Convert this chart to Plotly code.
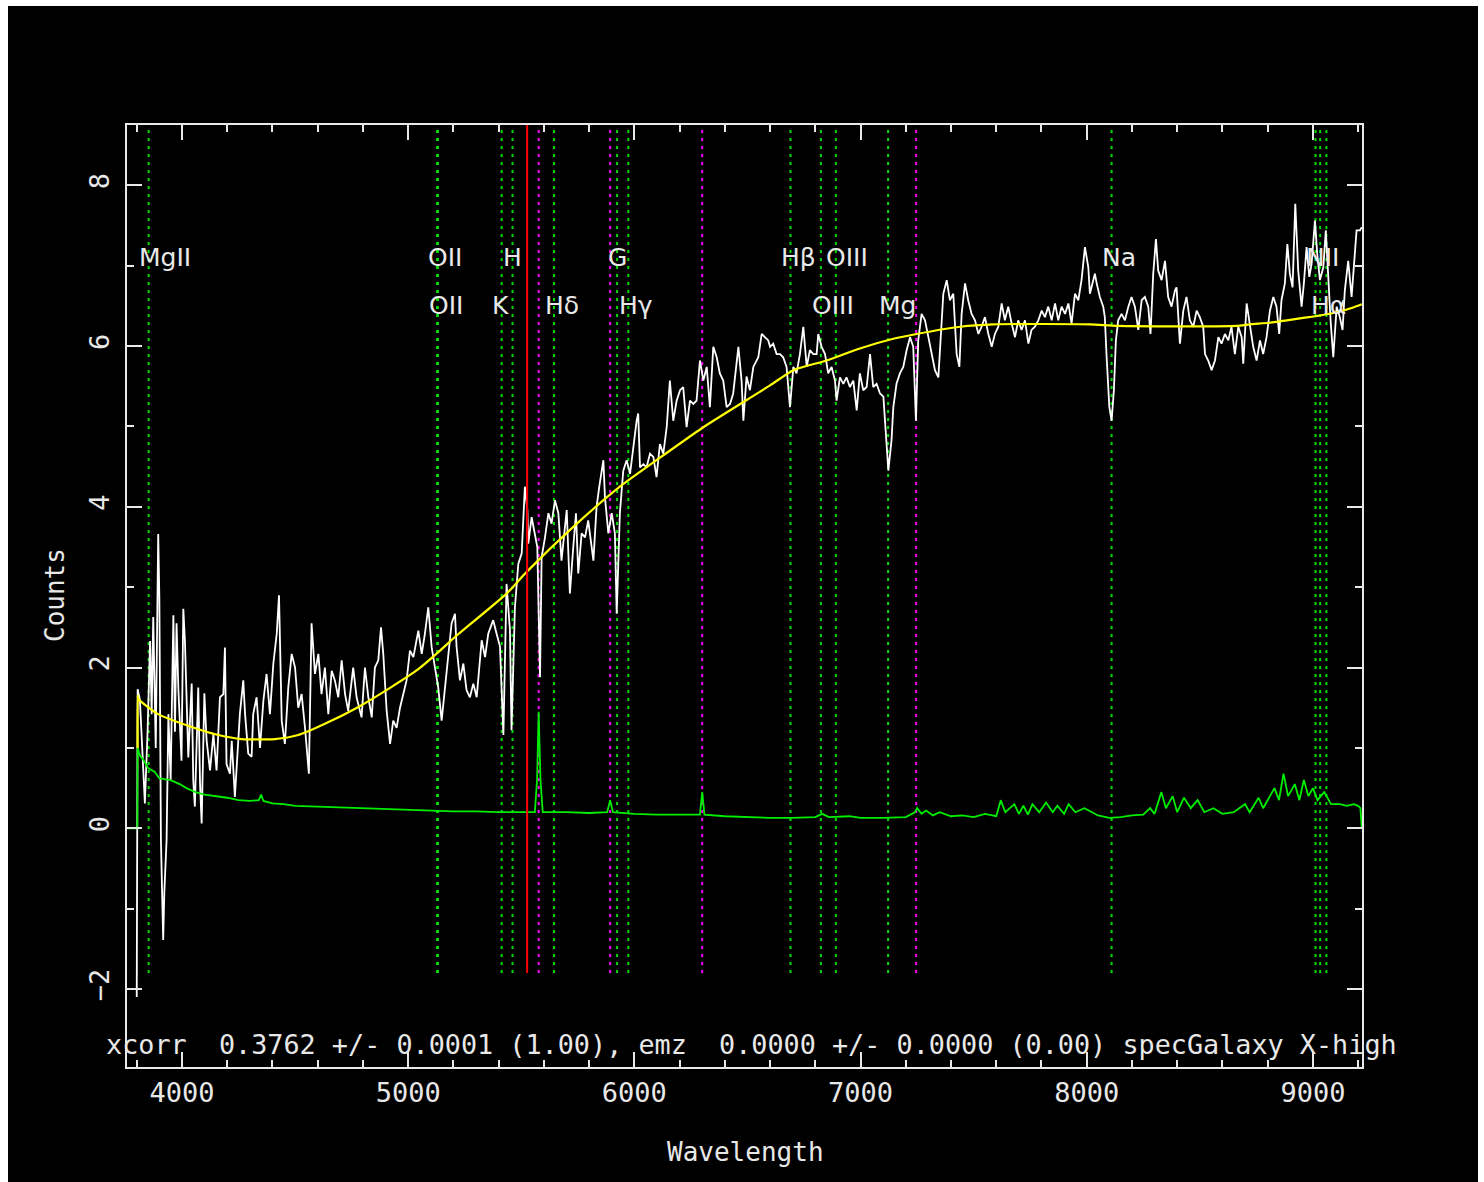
import plotly.graph_objects as go

# ---------------- data ----------------
spec_wave = [3800, 3804, 3814, 3829, 3836, 3848, 3859, 3866, 3873, 3884, 3895, 3900, 3907, 3917, 3922, 3932,
             3940, 3950, 3962, 3969, 3976, 3984, 3998, 4006, 4013, 4028, 4043, 4050, 4057, 4072, 4080, 4087,
             4099, 4109, 4124, 4139, 4153, 4168, 4183, 4190, 4197, 4212, 4220, 4234, 4242, 4256, 4271, 4279,
             4293, 4308, 4315, 4330, 4345, 4360, 4374, 4389, 4404, 4419, 4429, 4441, 4455, 4470, 4485, 4500,
             4514, 4529, 4544, 4551, 4561, 4573, 4588, 4603, 4617, 4632, 4647, 4662, 4676, 4691, 4706, 4721,
             4735, 4757, 4772, 4794, 4809, 4824, 4839, 4853, 4868, 4880, 4890, 4905, 4920, 4934, 4949, 4964,
             4978, 4993, 5008, 5023, 5045, 5060, 5074, 5089, 5104, 5118, 5133, 5148, 5163, 5177, 5192, 5207,
             5214, 5229, 5244, 5258, 5273, 5288, 5303, 5325, 5340, 5354, 5376, 5391, 5406, 5421, 5435, 5450,
             5457, 5472, 5487, 5502, 5509, 5516, 5527, 5531, 5546, 5561, 5571, 5583, 5590, 5605, 5620, 5634,
             5649, 5664, 5678, 5701, 5715, 5730, 5742, 5752, 5767, 5782, 5796, 5819, 5833, 5845, 5863, 5870,
             5885, 5900, 5914, 5922, 5936, 5951, 5966, 5981, 5995, 6010, 6017, 6025, 6040, 6054, 6069, 6084,
             6098, 6113, 6128, 6143, 6157, 6172, 6187, 6202, 6216, 6231, 6246, 6261, 6275, 6290, 6305, 6320,
             6334, 6349, 6364, 6378, 6393, 6408, 6423, 6437, 6460, 6474, 6482, 6496, 6511, 6526, 6548, 6563,
             6577, 6592, 6600, 6614, 6629, 6644, 6658, 6673, 6688, 6703, 6717, 6732, 6747, 6762, 6776, 6791,
             6806, 6813, 6828, 6843, 6857, 6872, 6887, 6894, 6909, 6924, 6938, 6953, 6968, 6983, 6997, 7012,
             7027, 7042, 7056, 7071, 7086, 7101, 7112, 7123, 7137, 7145, 7159, 7174, 7189, 7204, 7219, 7233,
             7245, 7255, 7270, 7285, 7300, 7314, 7329, 7344, 7358, 7366, 7381, 7395, 7410, 7425, 7437, 7447,
             7462, 7476, 7491, 7506, 7521, 7535, 7550, 7565, 7580, 7594, 7609, 7624, 7638, 7653, 7668, 7683,
             7697, 7712, 7727, 7742, 7756, 7771, 7786, 7801, 7815, 7830, 7845, 7860, 7874, 7889, 7904, 7919,
             7933, 7948, 7963, 7977, 7992, 8007, 8014, 8029, 8036, 8044, 8058, 8073, 8080, 8088, 8100, 8110,
             8120, 8129, 8139, 8154, 8169, 8184, 8198, 8213, 8228, 8243, 8257, 8272, 8282, 8294, 8306, 8316,
             8331, 8346, 8360, 8375, 8390, 8397, 8412, 8427, 8441, 8456, 8471, 8486, 8500, 8515, 8523, 8537,
             8552, 8567, 8582, 8596, 8611, 8626, 8640, 8655, 8670, 8685, 8692, 8707, 8721, 8736, 8751, 8766,
             8780, 8795, 8810, 8825, 8839, 8851, 8861, 8876, 8887, 8898, 8910, 8922, 8935, 8950, 8960, 8972,
             8984, 8994, 9009, 9019, 9031, 9046, 9057, 9068, 9078, 9090, 9105, 9119, 9131, 9141, 9156, 9171,
             9181, 9193, 9208, 9216]
spec_counts = [-2.1, 1.73, 1.6, 0.68, 0.31, 1.2, 2.33, 1.42, 2.63, 1.0, 3.66, 2.87, -0.15, -1.39, -0.8, -0.15,
               1.42, 0.6, 2.65, 1.2, 2.55, 1.74, 0.84, 2.73, 2.34, 0.88, 1.8, 0.6, 0.27, 1.75, 0.55, 0.06,
               1.68, 1.09, 0.72, 1.17, 0.72, 1.63, 1.67, 2.25, 0.8, 0.68, 1.09, 0.39, 0.72, 1.42, 1.84, 1.42,
               0.93, 0.89, 1.42, 1.63, 1.0, 1.59, 1.92, 1.42, 2.05, 2.42, 2.9, 1.34, 1.05, 1.75, 2.17, 2.0,
               1.5, 1.67, 1.25, 1.05, 0.68, 2.55, 1.92, 2.17, 1.67, 2.0, 1.42, 1.96, 1.84, 1.63, 2.09, 1.67,
               1.46, 2.0, 1.63, 1.38, 2.0, 1.63, 1.38, 2.0, 2.09, 2.5, 2.17, 1.46, 1.05, 1.34, 1.25, 1.5,
               1.67, 1.84, 2.21, 2.13, 2.46, 2.17, 2.42, 2.75, 2.25, 2.0, 1.75, 1.34, 1.75, 2.09, 2.55, 2.67,
               2.26, 1.84, 2.05, 1.72, 1.63, 1.8, 1.63, 2.34, 2.13, 2.42, 2.59, 2.42, 2.26, 1.16, 3.04, 2.47,
               1.22, 2.75, 3.29, 3.42, 3.92, 4.25, 3.96, 3.54, 3.87, 3.67, 3.5, 1.88, 3.37, 3.62, 3.92, 3.79,
               4.08, 3.92, 3.33, 3.96, 2.92, 3.5, 3.92, 3.17, 3.67, 3.62, 3.83, 3.33, 4.0, 4.25, 4.58, 4.12,
               3.67, 3.92, 3.67, 2.67, 3.92, 4.45, 4.58, 4.41, 4.74, 5.07, 5.16, 4.49, 4.53, 4.49, 4.66, 4.62,
               4.37, 4.78, 4.66, 4.99, 5.57, 5.07, 5.32, 5.45, 5.49, 4.99, 5.32, 5.28, 5.32, 5.82, 5.57, 5.74,
               5.24, 5.99, 5.86, 5.66, 5.57, 5.24, 5.28, 5.41, 5.99, 5.57, 5.07, 5.62, 5.45, 5.74, 5.86, 6.15,
               6.11, 6.07, 5.99, 6.03, 5.9, 5.9, 5.86, 5.74, 5.24, 5.74, 5.66, 5.9, 6.24, 5.74, 5.95, 5.9,
               5.9, 6.15, 5.99, 5.9, 5.66, 5.74, 5.57, 5.32, 5.61, 5.53, 5.61, 5.49, 5.57, 5.2, 5.66, 5.45,
               5.49, 5.9, 5.49, 5.53, 5.41, 5.37, 4.91, 4.45, 4.83, 5.24, 5.53, 5.66, 5.74, 5.95, 6.11, 5.99,
               5.07, 6.07, 6.4, 6.32, 6.11, 5.9, 5.7, 5.61, 6.2, 6.65, 6.82, 6.57, 6.65, 5.9, 5.74, 6.4,
               6.78, 6.57, 6.4, 6.32, 6.15, 6.24, 6.36, 6.15, 5.99, 6.15, 6.24, 6.53, 6.32, 6.49, 6.28, 6.11,
               6.32, 6.2, 6.32, 6.03, 6.2, 6.24, 6.32, 6.44, 6.36, 6.49, 6.32, 6.53, 6.32, 6.49, 6.4, 6.53,
               6.28, 6.65, 6.57, 6.82, 7.23, 6.98, 6.65, 6.82, 6.9, 6.78, 6.61, 6.49, 6.36, 5.86, 5.24, 5.07,
               5.45, 6.07, 6.32, 6.4, 6.32, 6.49, 6.61, 6.49, 6.2, 6.57, 6.61, 6.49, 6.15, 6.9, 7.33, 6.94,
               6.82, 7.06, 6.61, 6.49, 6.69, 6.73, 6.03, 6.44, 6.61, 6.32, 6.24, 6.44, 6.36, 6.24, 5.9, 5.82,
               5.7, 5.82, 6.11, 6.03, 6.15, 6.07, 6.24, 5.9, 6.24, 6.11, 5.78, 6.53, 6.24, 5.99, 5.82, 6.07,
               5.9, 6.11, 6.44, 6.61, 6.49, 6.15, 6.57, 6.78, 7.27, 6.9, 6.73, 7.77, 6.94, 6.49, 6.78, 7.23,
               6.86, 7.02, 7.56, 7.15, 6.82, 6.98, 7.44, 6.82, 6.32, 5.86, 6.49, 6.36, 6.2, 6.69, 7.06, 6.61,
               6.98, 7.44, 7.44, 7.48]

model_wave = [3804, 3804.5, 3807, 3895, 4043, 4161, 4264, 4411, 4514, 4632, 4780, 4927, 5045, 5141, 5207,
              5435, 5524, 5730, 5936, 6098, 6305, 6600, 6703, 6850, 6997, 7145, 7248, 7440, 7587, 8014,
              8139, 8662, 8721, 8810, 8884, 8957, 9031, 9105, 9178, 9216]
model_counts = [1.0, 1.65, 1.61, 1.42, 1.26, 1.16, 1.11, 1.11, 1.16, 1.3, 1.51, 1.76, 1.98, 2.21, 2.38,
                2.92, 3.19, 3.75, 4.25, 4.58, 4.99, 5.51, 5.7, 5.82, 5.97, 6.09, 6.15, 6.24, 6.27, 6.27,
                6.25, 6.25, 6.27, 6.29, 6.32, 6.35, 6.38, 6.42, 6.48, 6.52]

err_wave = [3757, 3803, 3804, 3815, 3830, 3850, 3880, 3900, 3950, 3990, 4020, 4060, 4100, 4150, 4200, 4250,
            4300, 4340, 4350, 4360, 4400, 4450, 4500, 4600, 4700, 4800, 4900, 5000, 5100, 5200, 5300, 5400,
            5500, 5560, 5570, 5577, 5585, 5595, 5700, 5800, 5880, 5893, 5905, 6000, 6100, 6200, 6290, 6300,
            6310, 6400, 6500, 6600, 6700, 6800, 6830, 6860, 6950, 7000, 7100, 7200, 7240, 7250, 7270, 7290,
            7320, 7350, 7400, 7450, 7500, 7550, 7600, 7620, 7640, 7680, 7700, 7720, 7740, 7760, 7790, 7820,
            7850, 7870, 7900, 7920, 7950, 7990, 8050, 8100, 8150, 8200, 8250, 8280, 8300, 8330, 8350, 8380,
            8400, 8430, 8460, 8490, 8520, 8560, 8600, 8650, 8700, 8720, 8760, 8780, 8830, 8850, 8870, 8890,
            8920, 8940, 8960, 8980, 9000, 9020, 9050, 9080, 9120, 9150, 9180, 9200, 9210, 9216]
err_counts = [0.0, 0.0, 1.0, 0.9, 0.85, 0.75, 0.7, 0.62, 0.6, 0.55, 0.5, 0.45, 0.42, 0.4, 0.38, 0.35,
              0.34, 0.35, 0.42, 0.34, 0.31, 0.3, 0.28, 0.27, 0.26, 0.25, 0.24, 0.23, 0.22, 0.21, 0.21, 0.2,
              0.2, 0.2, 0.6, 1.45, 0.6, 0.2, 0.2, 0.19, 0.2, 0.35, 0.2, 0.18, 0.17, 0.17, 0.17, 0.45,
              0.17, 0.15, 0.14, 0.13, 0.13, 0.14, 0.18, 0.14, 0.15, 0.13, 0.13, 0.14, 0.2, 0.25, 0.18, 0.22,
              0.16, 0.2, 0.15, 0.16, 0.14, 0.18, 0.15, 0.35, 0.2, 0.3, 0.18, 0.28, 0.17, 0.3, 0.2, 0.32,
              0.2, 0.28, 0.18, 0.3, 0.2, 0.25, 0.16, 0.13, 0.14, 0.16, 0.17, 0.25, 0.18, 0.45, 0.25, 0.4,
              0.2, 0.38, 0.25, 0.35, 0.2, 0.25, 0.18, 0.2, 0.3, 0.2, 0.38, 0.25, 0.5, 0.35, 0.68, 0.4,
              0.55, 0.35, 0.6, 0.4, 0.5, 0.35, 0.45, 0.3, 0.3, 0.28, 0.3, 0.28, 0.25, 0.0]

# observed wavelengths of the marked galaxy lines (z = 0.3762)
line_names = ["MgII", "OII", "OII", "K", "H", "Hδ", "G", "Hγ", "Hβ", "OIII", "OIII", "Mg", "Na",
              "NII", "Hα", "NII"]
line_wave = [3852.7, 5127.7, 5131.6, 5413.5, 5461.4, 5644.8, 5923.7, 5973.4, 6690.2, 6824.6, 6890.6,
             7121.8, 8110.0, 9011.4, 9032.0, 9059.5]
line_row = [1, 1, 2, 2, 1, 2, 1, 2, 1, 2, 1, 2, 1, 1, 2, 0]   # 0 = no label

sky_wave = [5577, 5893, 6300, 7246]
fit_wave = [5526]

x_range = [3757, 9217]
y_range = [-2.97, 8.75]
x_ticks = [4000, 5000, 6000, 7000, 8000, 9000]
y_ticks = [-2, 0, 2, 4, 6, 8]

info_text = "xcorr  0.3762 +/- 0.0001 (1.00), emz  0.0000 +/- 0.0000 (0.00) specGalaxy X-high"

# ---------------- styling ----------------
FG = "#e8e8e8"
MONO = "DejaVu Sans Mono"
SANS = "DejaVu Sans"
OX, OY = 8, 6                      # page offset of the figure inside the window
W, H = 1470, 1176
PL, PR, PT, PB = 127, 1362, 125, 1067   # plot frame in window pixels
L, R, T, B = PL - OX, W - (PR - OX), PT - OY, H - (PB - OY)
PW, PH = PR - PL, PB - PT


def px_x(px):
    return (px - PL) / PW


def px_y(py):
    return (PB - py) / PH


fig = go.Figure()

line_top = y_range[1]
line_bot = -1.8


def vlines(waves):
    xs, ys = [], []
    for w in waves:
        xs += [w, w, None]
        ys += [line_bot, line_top, None]
    return xs, ys


gx, gy = vlines(line_wave)
fig.add_trace(go.Scatter(x=gx, y=gy, mode="lines", line=dict(color="#00e000", width=2, dash="3px,5px"),
                         hoverinfo="skip", showlegend=False))
mx, my = vlines(sky_wave)
fig.add_trace(go.Scatter(x=mx, y=my, mode="lines", line=dict(color="#ff00ff", width=2, dash="3px,5px"),
                         hoverinfo="skip", showlegend=False))

fig.add_trace(go.Scatter(x=spec_wave, y=spec_counts, mode="lines", line=dict(color="white", width=1.8),
                         showlegend=False))
fig.add_trace(go.Scatter(x=err_wave, y=err_counts, mode="lines", line=dict(color="#00ee00", width=1.8),
                         showlegend=False))
fig.add_trace(go.Scatter(x=model_wave, y=model_counts, mode="lines", line=dict(color="#ffff00", width=2.2,
                         shape="spline", smoothing=0.6), showlegend=False))

rx, ry = vlines(fit_wave)
fig.add_trace(go.Scatter(x=rx, y=ry, mode="lines", line=dict(color="#ff0000", width=2),
                         hoverinfo="skip", showlegend=False))

annotations = []
row_y = {1: 7.1, 2: 6.5}
for name, w, row in zip(line_names, line_wave, line_row):
    if row == 0:
        continue
    annotations.append(dict(x=w - 50, y=row_y[row], xref="x", yref="y", text=name, showarrow=False,
                            xanchor="left", yanchor="middle", font=dict(family=SANS, size=25, color=FG)))

annotations.append(dict(x=px_x(104), y=px_y(1044), xref="paper", yref="paper", text=info_text,
                        showarrow=False, xanchor="left", yanchor="middle",
                        font=dict(family=MONO, size=26.8, color=FG)))
annotations.append(dict(x=px_x(745), y=px_y(1152), xref="paper", yref="paper", text="Wavelength",
                        showarrow=False, xanchor="center", yanchor="middle",
                        font=dict(family=MONO, size=26, color=FG)))
annotations.append(dict(x=px_x(55), y=px_y(595), xref="paper", yref="paper", text="Counts",
                        showarrow=False, xanchor="center", yanchor="middle", textangle=-90,
                        font=dict(family=MONO, size=26, color=FG)))

axis_common = dict(showgrid=False, zeroline=False, showline=True, linecolor=FG, linewidth=2,
                   mirror="ticks", ticks="inside", ticklen=15, tickwidth=2, tickcolor=FG,
                   tickfont=dict(family=MONO, size=27, color=FG))

fig.update_layout(
    width=W, height=H, margin=dict(l=L, r=R, t=T, b=B, pad=0),
    paper_bgcolor="black", plot_bgcolor="black",
    xaxis=dict(range=x_range, tickvals=x_ticks, ticklabelstandoff=1,
               minor=dict(dtick=200, tick0=0, ticklen=7, tickwidth=2, tickcolor=FG, ticks="inside"),
               **axis_common),
    yaxis=dict(range=y_range, tickvals=y_ticks, tickangle=-90, ticklabelstandoff=5,
               minor=dict(dtick=1, tick0=0, ticklen=7, tickwidth=2, tickcolor=FG, ticks="inside"),
               **axis_common),
    annotations=annotations, showlegend=False,
)

fig.write_html("out.html", post_script="document.body.style.margin='6px 0px 0px 8px';")
